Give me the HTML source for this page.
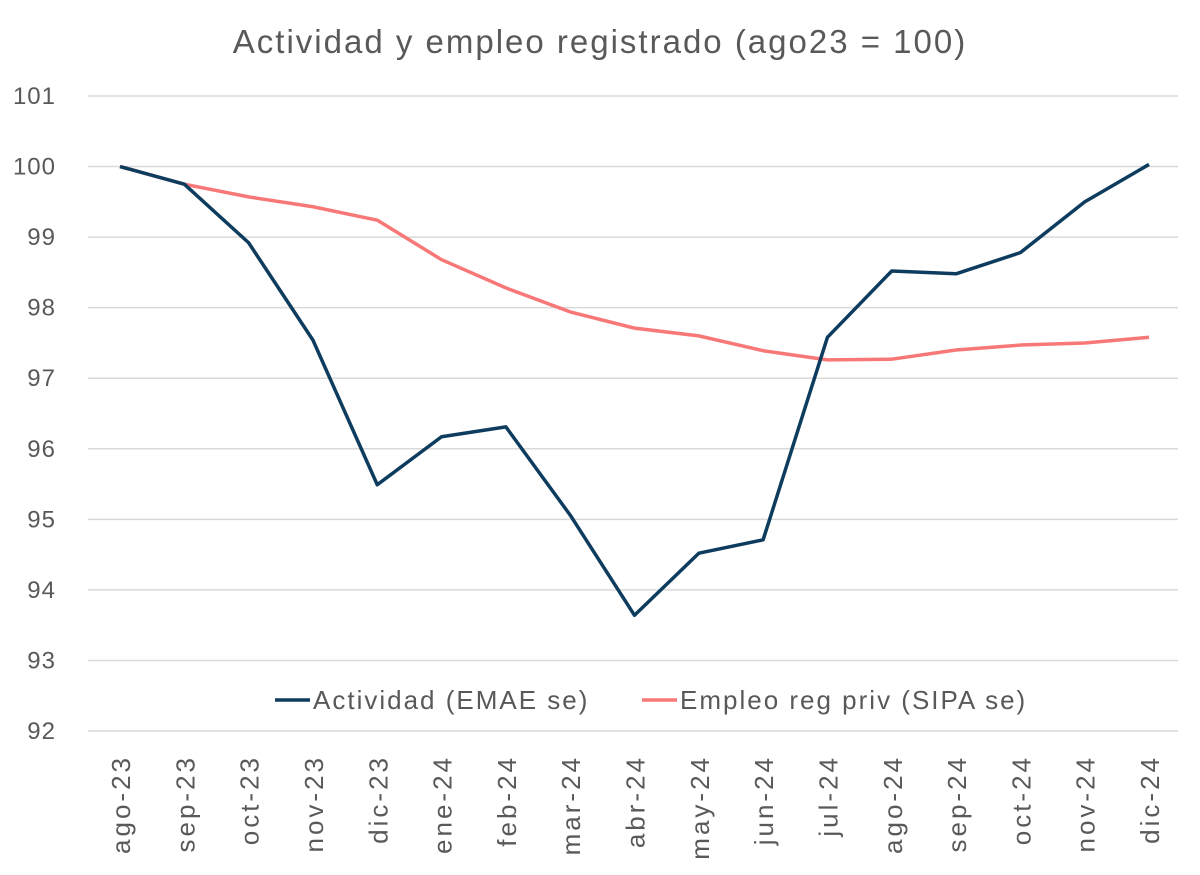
<!DOCTYPE html>
<html><head><meta charset="utf-8"><style>
html,body{margin:0;padding:0;background:#fff;}
svg text{font-family:"Liberation Sans",sans-serif;fill:#595959;}
</style></head><body>
<svg id="chart" width="1200" height="870">
<text x="600" y="53" font-size="33" letter-spacing="2" text-anchor="middle">Actividad y empleo registrado (ago23 = 100)</text>
<g id="grid"></g><g id="ylab"></g><g id="xlab"></g><g id="lines"></g>
<g>
<line x1="275" y1="700" x2="310" y2="700" stroke="#0e3c5e" stroke-width="3.5"/>
<text x="313" y="709" font-size="26" letter-spacing="2">Actividad (EMAE se)</text>
<line x1="642" y1="700" x2="677" y2="700" stroke="#f87878" stroke-width="3.5"/>
<text x="680" y="709" font-size="26" letter-spacing="2">Empleo reg priv (SIPA se)</text>
</g>
</svg>
<script>
const categories=["ago-23","sep-23","oct-23","nov-23","dic-23","ene-24","feb-24","mar-24","abr-24","may-24","jun-24","jul-24","ago-24","sep-24","oct-24","nov-24","dic-24"];
const actividad=[100,99.75,98.92,97.54,95.49,96.17,96.31,95.06,93.64,94.52,94.71,97.58,98.52,98.48,98.78,99.5,100.03];
const empleo=[100,99.75,99.57,99.43,99.24,98.68,98.28,97.94,97.71,97.6,97.39,97.26,97.27,97.4,97.47,97.5,97.58];
const yTicks=[92,93,94,95,96,97,98,99,100,101];
const NS="http://www.w3.org/2000/svg";
const yMin=92,yMax=101,yTop=96,yBot=731,x0=120,x1=1149;
const ys=v=>yBot-(v-yMin)/(yMax-yMin)*(yBot-yTop);
const xs=i=>x0+i*(x1-x0)/(categories.length-1);
function mk(t,a,p){const e=document.createElementNS(NS,t);for(const k in a)e.setAttribute(k,a[k]);p.appendChild(e);return e;}
const grid=document.getElementById('grid'),yl=document.getElementById('ylab'),xl=document.getElementById('xlab'),ln=document.getElementById('lines');
yTicks.forEach(v=>{
 const g=mk('line',{x1:88,x2:1178,y1:ys(v),y2:ys(v),stroke:'#d9d9d9','stroke-width':1.5},grid);
 
 
 const t=mk('text',{x:56,y:ys(v)+8,'font-size':24,'letter-spacing':1,'text-anchor':'end'},yl);t.textContent=v;
 
 
});
categories.forEach((c,i)=>{
 const t=mk('text',{x:0,y:0,'font-size':26,'letter-spacing':3,'text-anchor':'end',transform:`translate(${xs(i)+10},755) rotate(-90)`},xl);t.textContent=c;
 
 
});
function series(d,col,name){
 const p=mk('polyline',{points:d.map((v,i)=>xs(i)+','+ys(v)).join(' '),fill:'none',stroke:col,'stroke-width':3.5,'stroke-linejoin':'round'},ln);
 
 
}
series(empleo,'#f87878','line-empleo');
series(actividad,'#0e3c5e','line-actividad');
</script>
</body></html>
